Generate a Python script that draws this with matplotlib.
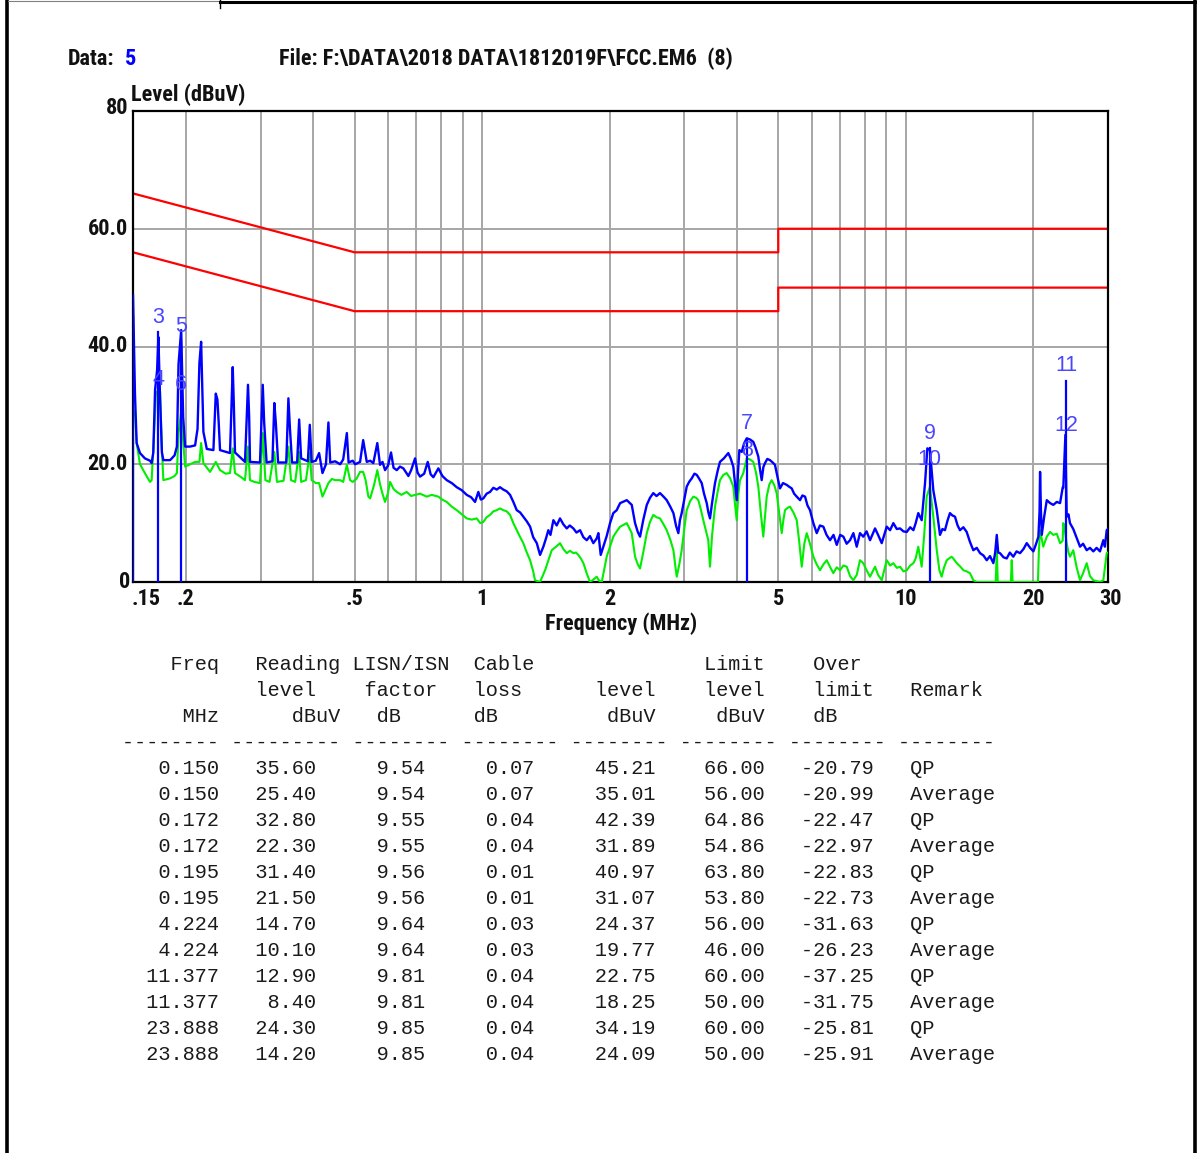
import matplotlib
matplotlib.use('Agg')
import matplotlib.pyplot as plt
from matplotlib.lines import Line2D
import matplotlib.transforms as mtransforms
from matplotlib import font_manager

# ---------------- data ----------------
blue_f = [0.1500, 0.1516, 0.1530, 0.1558, 0.1600, 0.1645, 0.1660, 0.1675, 0.1691, 0.1710, 0.1722, 0.1738, 0.1755, 0.1769,
          0.1835, 0.1880, 0.1904, 0.1921, 0.1949, 0.1970, 0.1991, 0.2045, 0.2102, 0.2130, 0.2152, 0.2172, 0.2199, 0.2240,
          0.2322, 0.2352, 0.2373, 0.2390, 0.2407, 0.2541, 0.2579, 0.2595, 0.2611, 0.2757, 0.2802, 0.2820, 0.2833, 0.2991,
          0.3036, 0.3060, 0.3100, 0.3200, 0.3233, 0.3260, 0.3300, 0.3450, 0.3490, 0.3520, 0.3560, 0.3660, 0.3700, 0.3740,
          0.3880, 0.3920, 0.3960, 0.4050, 0.4124, 0.4200, 0.4280, 0.4338, 0.4380, 0.4499, 0.4624, 0.4700, 0.4795, 0.4840,
          0.4950, 0.5018, 0.5152, 0.5240, 0.5343, 0.5443, 0.5537, 0.5658, 0.5742, 0.5820, 0.5901, 0.6000, 0.6096, 0.6180,
          0.6289, 0.6400, 0.6519, 0.6699, 0.6800, 0.6947, 0.7040, 0.7138, 0.7300, 0.7442, 0.7560, 0.7672, 0.7884, 0.8060,
          0.8251, 0.8480, 0.8712, 0.8950, 0.9198, 0.9420, 0.9624, 0.9797, 0.9930, 1.0067, 1.025, 1.044, 1.063, 1.083,
          1.102, 1.122, 1.143, 1.164, 1.185, 1.207, 1.230, 1.251, 1.275, 1.298, 1.320, 1.346, 1.370, 1.395, 1.415, 1.433,
          1.450, 1.473, 1.500, 1.527, 1.555, 1.584, 1.610, 1.642, 1.670, 1.703, 1.734, 1.766, 1.797, 1.830, 1.864, 1.881,
          1.905, 1.968, 2.004, 2.040, 2.078, 2.117, 2.195, 2.255, 2.296, 2.330, 2.359, 2.400, 2.447, 2.490, 2.535, 2.580,
          2.629, 2.680, 2.727, 2.780, 2.828, 2.870, 2.905, 2.930, 2.958, 3.000, 3.040, 3.080, 3.124, 3.170, 3.210, 3.250,
          3.298, 3.340, 3.389, 3.420, 3.450, 3.490, 3.545, 3.600, 3.642, 3.720, 3.811, 3.860, 3.916, 3.950, 3.989, 4.020,
          4.047, 4.099, 4.150, 4.212, 4.290, 4.366, 4.420, 4.486, 4.530, 4.569, 4.610, 4.652, 4.710, 4.779, 4.850, 4.911,
          4.980, 5.047, 5.130, 5.234, 5.300, 5.378, 5.450, 5.527, 5.628, 5.700, 5.783, 5.860, 5.941, 6.050, 6.162, 6.270,
          6.387, 6.500, 6.624, 6.750, 6.870, 7.000, 7.122, 7.250, 7.385, 7.520, 7.658, 7.794, 7.935, 8.080, 8.232, 8.460,
          8.600, 8.772, 9.014, 9.180, 9.344, 9.520, 9.690, 9.870, 10.05, 10.24, 10.42, 10.55, 10.70, 10.90, 11.10, 11.24,
          11.40, 11.61, 11.83, 12.04, 12.20, 12.37, 12.55, 12.71, 12.88, 13.06, 13.25, 13.42, 13.67, 13.92, 14.17, 14.43,
          14.70, 14.97, 15.25, 15.52, 15.80, 16.09, 16.25, 16.39, 16.52, 16.68, 17.00, 17.30, 17.60, 17.93, 18.25, 18.60,
          18.95, 19.29, 19.65, 20.00, 20.30, 20.55, 20.68, 20.74, 20.84, 20.93, 21.20, 21.51, 21.90, 22.29, 22.71, 23.12,
          23.46, 23.53, 23.80, 23.97, 24.20, 24.40, 24.84, 25.30, 25.77, 26.20, 26.72, 27.20, 27.70, 28.20, 28.72, 29.25,
          29.50, 29.79, 30.00]
blue_db = [48.7, 32.0, 23.6, 21.9, 21.0, 20.6, 20.2, 22.0, 32.6, 36.0, 41.6, 31.0, 22.0, 20.7,
           20.7, 21.5, 23.0, 37.0, 42.8, 28.0, 23.0, 23.0, 23.2, 26.0, 37.2, 40.8, 25.5, 22.6,
           22.4, 32.0, 31.0, 27.0, 22.4, 21.9, 36.5, 30.0, 22.0, 20.4, 33.5, 28.0, 20.4, 20.3,
           33.5, 27.0, 20.3, 20.5, 30.4, 27.0, 20.3, 20.3, 31.2, 26.0, 20.3, 20.3, 27.6, 21.0,
           20.5, 26.7, 20.4, 20.6, 21.9, 18.5, 20.0, 27.1, 20.3, 20.5, 20.0, 20.8, 25.3, 20.3,
           20.6, 20.0, 20.4, 24.1, 20.4, 20.6, 20.2, 23.6, 19.9, 20.4, 19.0, 19.8, 22.0, 19.4,
           19.0, 19.6, 19.3, 18.0, 19.0, 21.0, 18.6, 17.9, 18.4, 20.4, 18.3, 17.8, 19.3, 18.0,
           17.3, 16.8, 16.1, 15.6, 14.8, 14.4, 13.6, 15.3, 14.0, 14.2, 15.0, 15.3, 16.0, 15.7,
           16.1, 15.7, 15.4, 14.8, 13.6, 12.2, 11.8, 11.1, 10.3, 9.4, 7.6, 6.6, 4.6, 6.0, 7.4, 8.8,
           8.0, 10.5, 9.6, 10.8, 9.8, 9.1, 9.6, 9.1, 8.4, 8.8, 7.6, 7.1, 7.8, 6.6, 7.4, 8.3,
           4.6, 7.8, 10.0, 11.7, 12.2, 13.4, 13.9, 13.1, 10.0, 8.5, 7.7, 10.5, 13.1, 14.3, 15.1, 14.6,
           15.1, 14.5, 13.9, 12.8, 11.7, 9.5, 8.3, 10.5, 11.7, 14.0, 16.2, 17.0, 17.6, 18.4, 18.2, 17.6,
           16.8, 15.0, 13.4, 11.8, 10.8, 13.5, 16.8, 19.0, 20.4, 21.0, 21.9, 21.0, 19.6, 17.0, 13.9, 19.0,
           22.4, 22.1, 23.5, 24.4, 24.2, 23.8, 22.8, 21.3, 19.0, 17.3, 19.5, 20.2, 20.9, 20.7, 20.3, 19.9,
           17.8, 15.9, 16.8, 16.5, 16.2, 15.9, 15.0, 14.5, 13.9, 14.7, 14.5, 13.0, 12.2, 10.0, 8.3, 9.6,
           9.4, 8.0, 7.1, 8.0, 6.3, 8.0, 7.7, 6.5, 7.1, 8.3, 6.0, 8.3, 7.7, 8.6, 7.1, 9.1,
           8.0, 6.6, 9.4, 8.8, 10.0, 9.0, 9.1, 8.6, 8.5, 9.3, 8.8, 10.0, 11.7, 10.5, 16.8, 22.7,
           22.4, 15.6, 12.2, 8.0, 9.0, 8.8, 10.5, 11.7, 11.3, 11.1, 9.6, 8.8, 9.3, 8.5, 6.8, 5.4,
           5.8, 4.9, 4.5, 3.7, 4.4, 3.2, 5.0, 8.0, 5.0, 4.9, 4.2, 4.0, 5.0, 4.3, 5.2, 4.9,
           5.6, 6.6, 5.8, 5.2, 6.5, 7.7, 12.0, 18.7, 12.0, 8.0, 11.0, 13.9, 13.4, 13.1, 13.6, 13.4,
           16.1, 16.0, 25.0, 11.1, 11.5, 10.0, 9.0, 7.5, 6.0, 6.5, 5.4, 5.8, 5.2, 5.8, 5.2, 7.1,
           6.0, 8.8, 9.0]

green_f = [0.1500, 0.1516, 0.1530, 0.1558, 0.1600, 0.1645, 0.1660, 0.1675, 0.1700, 0.1738, 0.1755, 0.1769, 0.1835,
           0.1880, 0.1904, 0.1921, 0.1949, 0.1970, 0.1991, 0.2045, 0.2102, 0.2152, 0.2172, 0.2199, 0.2280, 0.2352,
           0.2407, 0.2480, 0.2541, 0.2579, 0.2611, 0.2700, 0.2757, 0.2802, 0.2833, 0.2900, 0.2991, 0.3036, 0.3080,
           0.3150, 0.3233, 0.3280, 0.3400, 0.3490, 0.3540, 0.3620, 0.3700, 0.3740, 0.3840, 0.3920, 0.3960, 0.4050,
           0.4124, 0.4200, 0.4338, 0.4420, 0.4499, 0.4624, 0.4700, 0.4795, 0.4880, 0.4950, 0.5050, 0.5152, 0.5240,
           0.5310, 0.5390, 0.5443, 0.5560, 0.5658, 0.5742, 0.5820, 0.5901, 0.5990, 0.6065, 0.6180, 0.6289, 0.6450,
           0.6637, 0.6800, 0.6947, 0.7138, 0.7403, 0.7600, 0.7884, 0.8050, 0.8251, 0.8480, 0.8712, 0.8950, 0.9198,
           0.9450, 0.9710, 0.9900, 1.0067, 1.025, 1.044, 1.063, 1.083, 1.102, 1.122, 1.143, 1.164, 1.185, 1.207,
           1.230, 1.251, 1.275, 1.298, 1.320, 1.333, 1.370, 1.408, 1.435, 1.460, 1.495, 1.527, 1.555, 1.584, 1.612,
           1.642, 1.665, 1.687, 1.710, 1.734, 1.765, 1.797, 1.830, 1.864, 1.890, 1.916, 1.940, 1.968, 2.004, 2.040,
           2.078, 2.117, 2.195, 2.255, 2.296, 2.330, 2.359, 2.400, 2.447, 2.490, 2.535, 2.580, 2.629, 2.680, 2.727,
           2.780, 2.828, 2.860, 2.880, 2.920, 2.958, 3.000, 3.040, 3.100, 3.152, 3.200, 3.238, 3.280, 3.327, 3.380,
           3.418, 3.450, 3.490, 3.545, 3.600, 3.642, 3.710, 3.777, 3.850, 3.916, 3.955, 3.989, 4.025, 4.061, 4.135,
           4.212, 4.290, 4.366, 4.430, 4.486, 4.550, 4.609, 4.650, 4.695, 4.760, 4.823, 4.890, 4.956, 5.020, 5.094,
           5.140, 5.186, 5.260, 5.329, 5.430, 5.527, 5.600, 5.680, 5.760, 5.836, 5.940, 6.050, 6.160, 6.273, 6.390,
           6.506, 6.620, 6.744, 6.870, 6.994, 7.122, 7.254, 7.385, 7.518, 7.658, 7.794, 7.935, 8.080, 8.232, 8.460,
           8.600, 8.772, 9.014, 9.180, 9.344, 9.520, 9.690, 9.870, 10.05, 10.24, 10.42, 10.55, 10.70, 10.90, 11.05,
           11.20, 11.40, 11.61, 11.83, 12.00, 12.15, 12.30, 12.49, 12.65, 12.83, 13.00, 13.19, 13.45, 13.67, 13.92,
           14.17, 14.43, 14.70, 16.09, 16.30, 16.39, 16.48, 17.70, 17.78, 17.86, 20.50, 20.60, 20.74, 21.10, 21.51,
           21.90, 22.29, 22.71, 23.12, 23.45, 23.53, 23.70, 23.97, 24.20, 24.40, 24.84, 25.30, 25.77, 26.20, 26.72,
           27.20, 27.70, 28.72, 29.25, 29.79, 30.00]
green_db = [29.0, 28.9, 23.6, 20.0, 18.5, 17.0, 17.3, 22.7, 32.3, 32.3, 22.7, 17.3, 17.6,
            18.0, 18.5, 25.3, 28.9, 24.0, 19.6, 20.0, 20.4, 20.4, 23.6, 20.2, 18.7, 20.4,
            19.0, 18.4, 18.5, 22.7, 18.5, 17.8, 17.3, 23.0, 17.3, 17.0, 16.8, 25.3, 17.3,
            17.0, 22.1, 17.0, 17.2, 23.0, 17.3, 17.0, 22.1, 17.0, 17.3, 21.9, 17.3, 16.8,
            16.8, 14.5, 16.8, 17.5, 17.3, 17.3, 17.0, 19.9, 17.3, 17.0, 17.5, 18.7, 18.7,
            17.3, 14.5, 14.2, 16.5, 19.0, 16.6, 15.0, 13.6, 15.0, 17.0, 15.8, 15.3, 14.8,
            15.3, 14.6, 14.8, 15.0, 14.5, 14.8, 14.5, 14.0, 13.6, 12.8, 12.2, 11.5, 10.8,
            10.6, 10.8, 10.0, 10.2, 11.0, 11.4, 12.0, 12.2, 12.5, 12.2, 12.0, 11.4, 10.0, 8.8,
            7.6, 6.6, 5.0, 3.7, 1.8, 0.3, 0.0, 2.0, 3.8, 5.4, 6.0, 6.6, 5.6, 4.9, 5.3,
            4.9, 5.0, 4.6, 4.0, 3.2, 1.5, 0.0, 0.4, 0.9, 0.2, 0.0, 2.0, 4.3, 6.0, 7.7,
            8.6, 9.4, 10.0, 8.3, 4.3, 3.0, 2.3, 5.0, 8.3, 10.2, 11.4, 11.0, 10.8, 9.8, 8.8,
            7.2, 5.4, 2.5, 0.9, 3.0, 5.4, 9.0, 12.2, 13.8, 14.5, 14.3, 13.9, 12.4, 10.5, 8.5,
            7.1, 2.6, 8.0, 12.8, 15.5, 17.3, 18.2, 18.5, 17.6, 16.2, 13.0, 10.5, 15.0, 17.3, 18.5,
            21.0, 20.8, 20.4, 18.6, 16.2, 11.5, 7.7, 11.0, 14.5, 16.5, 17.3, 16.5, 15.1, 12.0, 8.3,
            10.5, 12.2, 12.6, 12.8, 11.8, 10.5, 7.0, 2.6, 6.5, 8.3, 6.5, 4.3, 3.0, 2.0, 3.0,
            3.7, 2.6, 1.5, 2.5, 2.0, 2.8, 2.6, 1.0, 0.3, 1.2, 3.7, 3.2, 2.0, 0.9, 2.6,
            1.2, 0.3, 3.7, 2.8, 3.2, 2.4, 2.6, 1.8, 2.0, 2.8, 3.2, 4.0, 6.0, 2.6, 8.0,
            14.5, 16.2, 11.1, 5.4, 2.0, 0.9, 2.4, 3.7, 4.0, 4.3, 3.8, 3.2, 2.6, 2.0, 1.8,
            1.5, 0.3, 0.0, 0.0, 0.0, 5.4, 0.0, 0.0, 3.7, 0.0, 0.0, 5.0, 8.8, 6.0, 7.7,
            8.5, 8.0, 8.2, 6.6, 7.0, 10.0, 9.0, 6.6, 5.0, 4.3, 5.4, 2.5, 0.3, 1.5, 3.2,
            1.0, 0.3, 0.0, 0.3, 4.9, 5.0]

# limit lines (FCC class B): QP and Average
qp_limit_f = [0.15, 0.5, 0.5, 5.0, 5.0, 30.0]
qp_limit_db = [66.0, 56.0, 56.0, 56.0, 60.0, 60.0]
av_limit_f = [0.15, 0.5, 0.5, 5.0, 5.0, 30.0]
av_limit_db = [56.0, 46.0, 46.0, 46.0, 50.0, 50.0]

# table data
freq = ['0.150', '0.150', '0.172', '0.172', '0.195', '0.195', '4.224', '4.224', '11.377', '11.377', '23.888', '23.888']
reading = ['35.60', '25.40', '32.80', '22.30', '31.40', '21.50', '14.70', '10.10', '12.90', '8.40', '24.30', '14.20']
lisn = ['9.54', '9.54', '9.55', '9.55', '9.56', '9.56', '9.64', '9.64', '9.81', '9.81', '9.85', '9.85']
cable = ['0.07', '0.07', '0.04', '0.04', '0.01', '0.01', '0.03', '0.03', '0.04', '0.04', '0.04', '0.04']
level = ['45.21', '35.01', '42.39', '31.89', '40.97', '31.07', '24.37', '19.77', '22.75', '18.25', '34.19', '24.09']
limit = ['66.00', '56.00', '64.86', '54.86', '63.80', '53.80', '56.00', '46.00', '60.00', '50.00', '60.00', '50.00']
over = ['-20.79', '-20.99', '-22.47', '-22.97', '-22.83', '-22.73', '-31.63', '-26.23', '-37.25', '-31.75', '-25.81', '-25.91']
remark = ['QP', 'Average', 'QP', 'Average', 'QP', 'Average', 'QP', 'Average', 'QP', 'Average', 'QP', 'Average']

x_tick_vals = [0.15, 0.2, 0.5, 1, 2, 5, 10, 20, 30]
x_tick_labels = ['.15', '.2', '.5', '1', '2', '5', '10', '20', '30']
y_tick_vals = [0, 20, 40, 60, 80]
y_tick_labels = ['0', '20.0', '40.0', '60.0', '80']
grid_x = [0.2, 0.3, 0.4, 0.5, 0.6, 0.7, 0.8, 0.9, 1, 2, 3, 4, 5, 6, 7, 8, 9, 10, 20]


# ---------------- fonts ----------------
def pick(names):
    for n in names:
        try:
            font_manager.findfont(font_manager.FontProperties(family=n), fallback_to_default=False)
            return n
        except Exception:
            pass
    return 'DejaVu Sans'


NARROW = pick(['Liberation Sans Narrow', 'Roboto Condensed', 'Liberation Sans'])
SANS = pick(['Liberation Sans', 'Arimo', 'DejaVu Sans'])
MONO = pick(['Liberation Mono', 'DejaVu Sans Mono'])

# ---------------- figure ----------------
W, H = 1197, 1153
fig = plt.figure(figsize=(W / 100, H / 100), dpi=100)
fig.patch.set_facecolor('white')


def fx(px):
    return px / W


def fy(py):
    return 1 - py / H


L, R, T, B = 133, 1108, 111, 582
ax = fig.add_axes([fx(L), fy(B), (R - L) / W, (B - T) / H])
ax.set_xscale('log')
ax.set_xlim(0.15, 30)
ax.set_ylim(0, 80)
ax.set_xticks([])
ax.set_yticks([])
ax.minorticks_off()
ax.tick_params(which='both', length=0, labelbottom=False, labelleft=False)
for s in ax.spines.values():
    s.set_linewidth(1.6)
    s.set_color('black')

gridc = '#a6a6a6'
for gx in grid_x:
    ax.axvline(gx, color=gridc, lw=1.4, zorder=0)
for gy in [20, 40, 60]:
    ax.axhline(gy, color=gridc, lw=1.4, zorder=0)

ax.plot(qp_limit_f, qp_limit_db, color='#ff0000', lw=1.6, zorder=2)
ax.plot(av_limit_f, av_limit_db, color='#ff0000', lw=1.6, zorder=2)
ax.plot(green_f, green_db, color='#00ee00', lw=1.5, zorder=3)
ax.plot(blue_f, blue_db, color='#0000ff', lw=1.7, zorder=4)

# marker lines and labels (labels 1/2 sit on the left axis and are hidden in the original)
mk_f = [float(v) for v in freq]
mk_lv = [float(v) for v in level]
for i in range(0, len(mk_f), 2):
    ax.plot([mk_f[i], mk_f[i]], [0, mk_lv[i]], color='#0000ff', lw=1.6, zorder=5)
for i, (f, lv) in enumerate(zip(mk_f, mk_lv)):
    if i < 2:
        continue
    ax.text(f, lv + 2.5, str(i + 1), color='#4a46ff', fontsize=15.5, family=SANS,
            ha='center', va='center', zorder=6, clip_on=True)

# tick labels
FS = 16
tfont = dict(family=NARROW, fontweight='bold', fontsize=FS, color='#111111')
xtrans = mtransforms.blended_transform_factory(ax.transData, ax.transAxes)
for v, lab in zip(x_tick_vals, x_tick_labels):
    tr = xtrans
    if lab == '.15':
        tr = xtrans + mtransforms.ScaledTranslation(13 / 100, 0, fig.dpi_scale_trans)
    if lab == '30':
        tr = xtrans + mtransforms.ScaledTranslation(3 / 100, 0, fig.dpi_scale_trans)
    ax.text(v, -17 / (B - T), lab, transform=tr, ha='center', va='center', **tfont)
ytrans = ax.transData + mtransforms.ScaledTranslation(-5 / 100, 0, fig.dpi_scale_trans)
for v, lab in zip(y_tick_vals, y_tick_labels):
    tr = ytrans
    if lab == '80':
        tr = ytrans + mtransforms.ScaledTranslation(0, 3 / 100, fig.dpi_scale_trans)
    if lab == '0':
        tr = ytrans + mtransforms.ScaledTranslation(2 / 100, 0, fig.dpi_scale_trans)
    ax.text(0.15, v, lab, transform=tr, ha='right', va='center', **tfont)

fig.text(fx(131), fy(95), 'Level (dBuV)', ha='left', va='center', **tfont)
fig.text(fx(621), fy(624), 'Frequency (MHz)', ha='center', va='center', **tfont)

# header
fig.text(fx(68), fy(59), 'Data:', ha='left', va='center', **tfont)
fig.text(fx(125), fy(59), '5', ha='left', va='center', family=NARROW, fontweight='bold',
         fontsize=FS, color='#0000ff')
fig.text(fx(279), fy(59), 'File: F:\\DATA\\2018 DATA\\1812019F\\FCC.EM6  (8)', ha='left', va='center', **tfont)


# ---------------- table ----------------
def place(items):
    s = ''
    for col, word in items:
        s = s.ljust(col) + word
    return s


hdr1 = place([(4, 'Freq'), (11, 'Reading'), (19, 'LISN/ISN'), (29, 'Cable'), (48, 'Limit'), (57, 'Over')])
hdr2 = place([(11, 'level'), (20, 'factor'), (29, 'loss'), (39, 'level'), (48, 'level'), (57, 'limit'), (65, 'Remark')])
hdr3 = place([(5, 'MHz'), (14, 'dBuV'), (21, 'dB'), (29, 'dB'), (40, 'dBuV'), (49, 'dBuV'), (57, 'dB')])
dash = '-------- --------- -------- -------- -------- -------- -------- --------'

lines = [(665, hdr1), (691, hdr2), (717, hdr3), (743, dash)]
for i in range(len(freq)):
    row = (freq[i].rjust(8) + '   ' + reading[i].rjust(5) + ' ' * 5 + lisn[i].rjust(4) + ' ' * 5 +
           cable[i].rjust(4) + ' ' * 5 + level[i].rjust(5) + ' ' * 4 + limit[i].rjust(5) + ' ' * 3 +
           over[i].rjust(6) + ' ' * 3 + remark[i])
    lines.append((769 + 26 * i, row))

for yy, txt in lines:
    fig.text(fx(122), fy(yy), txt, ha='left', va='center', family=MONO, fontsize=14.58,
             color='#1a1a1a')

# ---------------- page border ----------------
fig.add_artist(Line2D([fx(7), fx(7)], [fy(0), fy(H)], color='black', lw=2.6))
fig.add_artist(Line2D([fx(8), fx(220)], [fy(1), fy(1)], color='#808080', lw=0.8))
fig.add_artist(Line2D([fx(220), fx(1195)], [fy(1.5), fy(1.5)], color='black', lw=2.2))
fig.add_artist(Line2D([fx(220), fx(220)], [fy(0), fy(8)], color='black', lw=1.0))
fig.add_artist(Line2D([fx(1194.5), fx(1194.5)], [fy(1), fy(H)], color='black', lw=2.6))

fig.savefig('out.png', dpi=100, facecolor='white')
